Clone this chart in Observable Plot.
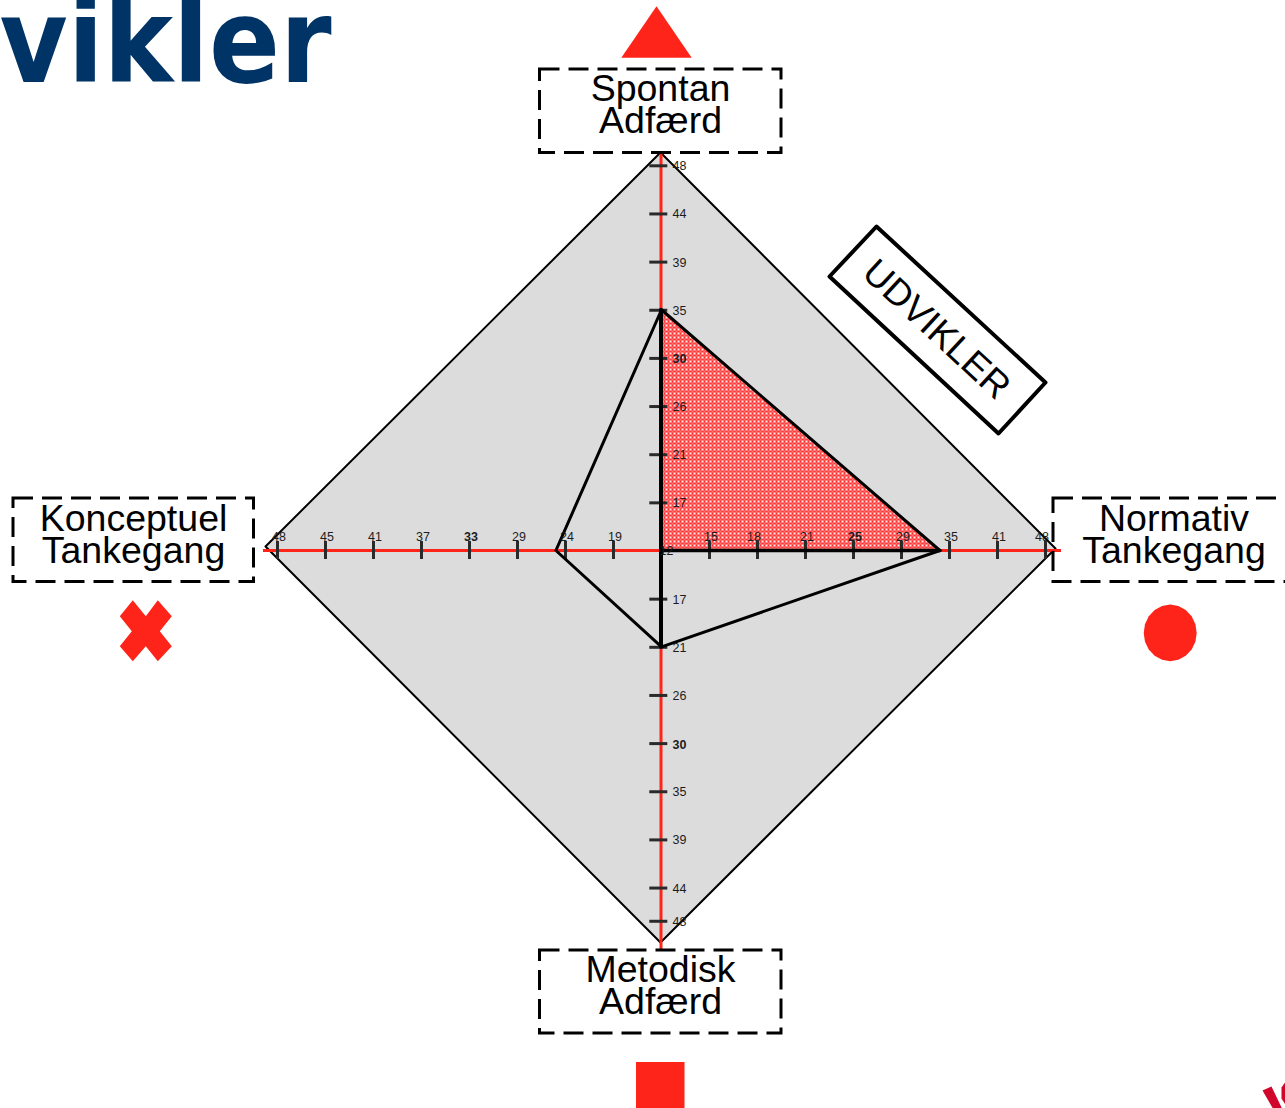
<!DOCTYPE html>
<html>
<head>
<meta charset="utf-8">
<script src="https://cdn.jsdelivr.net/npm/d3@7"></script>
<script src="https://cdn.jsdelivr.net/npm/@observablehq/plot@0.6"></script>
<style>
html,body{margin:0;padding:0;background:#fff;overflow:hidden}
svg{display:block}
svg text{opacity:.995}
</style>
</head>
<body>
<div id="chart"></div>
<script>
// --- Data: tick labels of each arm, and the profile value read on each arm
const centreValue = 12;
const spontanTicks = [17, 21, 26, 30, 35, 39, 44, 48];
const metodiskTicks = [17, 21, 26, 30, 35, 39, 44, 48];
const normativTicks = [15, 18, 21, 25, 29, 35, 41, 48];
const konceptuelTicks = [19, 24, 29, 33, 37, 41, 45, 48];
const boldTicks = {spontan: 30, metodisk: 30, normativ: 25, konceptuel: 33};
const profile = {spontan: 35, normativ: 33.8, metodisk: 21, konceptuel: 25};
const armLabels = ["Spontan\nAdfærd", "Normativ\nTankegang", "Metodisk\nAdfærd", "Konceptuel\nTankegang"];
const title = "vikler";
const profileName = "UDVIKLER";

// Each arm: value -> distance from centre in tick steps
const steps = ticks => d3.scaleLinear().domain([centreValue, ...ticks]).range(d3.range(ticks.length + 1));
const sS = steps(spontanTicks), sN = steps(normativTicks), sM = steps(metodiskTicks), sK = steps(konceptuelTicks);

// --- Layout (px in the picture -> chart units)
const W = 1285, H = 1108, CX = 661, CY = 550, UX = 48, UY = 48.15;
const X = p => (p - CX) / UX, Y = p => (CY - p) / UY;
const RED = "#ff2419", INK = "#2a2a2a", SANS = "Liberation Sans";

const pSp = {x: 0, y: sS(profile.spontan)};
const pNo = {x: sN(profile.normativ), y: 0};
const pMe = {x: 0, y: -sM(profile.metodisk)};
const pKo = {x: -sK(profile.konceptuel), y: 0};
const origin = {x: 0, y: 0};

const diamond = [[X(660), Y(152)], [X(1055), Y(548)], [X(660), Y(942)], [X(265), Y(546)]];
const badge = [[X(876), Y(226)], [X(1045), Y(382)], [X(998), Y(433)], [X(829), Y(276)]];
const logoA = [[X(1262), Y(1090)], [X(1271), Y(1086)], [X(1282), Y(1109)], [X(1273), Y(1109)]];
const logoB = [[X(1286), Y(1080)], [X(1281), Y(1087)], [X(1281), Y(1098)], [X(1286), Y(1106)]];
const boxes = [
  {x1: X(539.5), x2: X(781), y1: Y(69), y2: Y(152.5)},
  {x1: X(1053), x2: X(1296), y1: Y(498), y2: Y(581.5)},
  {x1: X(539.5), x2: X(781), y1: Y(950), y2: Y(1033)},
  {x1: X(13), x2: X(253.5), y1: Y(498), y2: Y(581.5)}
];
const labelPos = [[660, 106.5], [1173.5, 536.5], [660, 987.5], [133, 536.5]];

// hand-made symbols, drawn by Plot.dot
const triangle = {draw(c, s) { const r = Math.sqrt(s / Math.PI);
  c.moveTo(0, -r); c.lineTo(r * 1.37, r); c.lineTo(-r * 1.37, r); c.closePath(); }};
const cross = {draw(c, s) { const r = Math.sqrt(s / Math.PI) / 30;
  [[-13,-31],[0,-15],[12,-31],[26,-15],[14,0],[26,15],[12,30],[0,15],[-13,30],[-26,15],[-14,0],[-26,-15]]
    .forEach((p, i) => i ? c.lineTo(p[0]*r, p[1]*r) : c.moveTo(p[0]*r, p[1]*r)); c.closePath(); }};
const oval = {draw(c, s) { const r = Math.sqrt(s / Math.PI);
  for (let i = 0; i < 20; ++i) { const a = i * Math.PI / 10, px = r * Math.sin(a), py = -r * 1.07 * Math.cos(a);
    i ? c.lineTo(px, py) : c.moveTo(px, py); } c.closePath(); }};

const tickLen = 9 / UX;
const vTick = (ticks, sc, sign, stepsOverride) => ticks.map((t, i) => ({t, p: sign * (stepsOverride ? stepsOverride[i] : sc(t))}));
const topT = vTick(spontanTicks, sS, 1), botT = vTick(metodiskTicks, sM, -1, [1, 2, 3, 4, 5, 6, 7, 7.69]);
const rightT = vTick(normativTicks, sN, 1), leftT = vTick(konceptuelTicks, sK, -1);
const shifted = {18: -5 / UX, 48: -5 / UX};
const hT = [...rightT.map(d => ({...d, b: d.t === boldTicks.normativ, q: d.p + (shifted[d.t] || 0)})),
            ...leftT.map(d => ({...d, b: d.t === boldTicks.konceptuel, q: d.p}))];
const vT = [...topT.map(d => ({...d, b: d.t === boldTicks.spontan})), ...botT.map(d => ({...d, b: d.t === boldTicks.metodisk}))];

const tickText = (data, bold, opts) => Plot.text(data.filter(d => d.b === bold), {
  ...opts, text: d => String(d.t), fontSize: 12.5, fontFamily: SANS, fill: "#1c1c1c", fontWeight: bold ? "bold" : "normal"
});

const chart = Plot.plot({
  width: W, height: H, margin: 0,
  style: {background: "#fff"},
  x: {domain: [X(0), X(W)], range: [0, W], axis: null},
  y: {domain: [Y(H), Y(0)], range: [H, 0], axis: null},
  marks: [
    // title and cut-off logo
    Plot.text([title], {x: X(-1), y: Y(81), text: d => d, textAnchor: "start", lineAnchor: "bottom",
      fontFamily: "DejaVu Sans", fontWeight: "bold", fontSize: 117, fill: "#003366", className: "brand"}),
    Plot.line(logoA, {x: "0", y: "1", curve: "linear-closed", fill: "#d0062a", stroke: "none"}),
    Plot.line(logoB, {x: "0", y: "1", curve: "linear-closed", fill: "#d0062a", stroke: "none"}),
    // grey diamond
    Plot.line(diamond, {x: "0", y: "1", curve: "linear-closed", fill: "#dcdcdc", stroke: "#000", strokeWidth: 2}),
    // red axes
    Plot.ruleY([0], {x1: X(263), x2: X(1061), stroke: RED, strokeWidth: 3}),
    Plot.ruleX([0], {y1: Y(152), y2: Y(949), stroke: RED, strokeWidth: 3, dx: -0.5}),
    // hatched triangle
    Plot.line([pSp, pNo, origin], {x: "x", y: "y", curve: "linear-closed", fill: "url(#hatch)", stroke: "none"}),
    // ticks
    Plot.ruleX(hT, {x: "p", y1: -tickLen, y2: tickLen, stroke: INK, strokeWidth: 3}),
    Plot.ruleY(vT, {y: "p", x1: -tickLen * 1.3, x2: tickLen * 0.7, stroke: INK, strokeWidth: 3, dy: 0.5}),
    // profile outlines
    Plot.line([pSp, pNo, pMe, pKo], {x: "x", y: "y", curve: "linear-closed", stroke: "#000", strokeWidth: 3}),
    Plot.line([pSp, pMe], {x: "x", y: "y", stroke: "#000", strokeWidth: 4, dx: -0.5}),
    Plot.line([origin, pNo], {x: "x", y: "y", stroke: "#000", strokeWidth: 3.5}),
    // tick labels
    tickText(hT, false, {x: "q", y: 0, dx: 1.5, dy: -14}),
    tickText(hT, true, {x: "q", y: 0, dx: 1.5, dy: -14}),
    tickText(vT, false, {x: 0, y: "p", dx: 11, dy: 1, textAnchor: "start"}),
    tickText(vT, true, {x: 0, y: "p", dx: 11, dy: 1.5, textAnchor: "start"}),
    Plot.text([String(centreValue)], {x: 0, y: 0, dx: 5, text: d => d, fontSize: 12.5, fontFamily: SANS, fill: "#1c1c1c"}),
    // dashed boxes and labels
    Plot.rect(boxes, {x1: "x1", x2: "x2", y1: "y1", y2: "y2", fill: "none", stroke: "#000", strokeWidth: 3, strokeDasharray: "20,9"}),
    Plot.text(armLabels, {x: (d, i) => X(labelPos[i][0]), y: (d, i) => Y(labelPos[i][1]), text: d => d,
      fontFamily: SANS, fontSize: 37.5, lineHeight: 0.84, fill: "#000"}),
    // profile name badge
    Plot.line(badge, {x: "0", y: "1", curve: "linear-closed", fill: "none", stroke: "#000", strokeWidth: 4}),
    Plot.text([profileName], {x: X(936), y: Y(329), text: d => d, rotate: 42.8, fontFamily: SANS, fontSize: 37, fill: "#000"}),
    // corner symbols
    Plot.dot([0], {x: X(656), y: Y(31.5), r: 25.7, symbol: triangle, fill: RED, stroke: "none"}),
    Plot.dot([0], {x: X(1169.7), y: Y(632.4), r: 26.5, symbol: oval, fill: RED, stroke: "none"}),
    Plot.dot([0], {x: X(145.3), y: Y(630.7), r: 30, symbol: cross, fill: RED, stroke: "none"}),
    Plot.rect([0], {x1: X(636), x2: X(684.5), y1: Y(1062), y2: Y(1109), fill: RED})
  ]
});

// squeeze the brand word to its width in the picture
d3.select(chart).selectAll(".brand text").attr("textLength", 332).attr("lengthAdjust", "spacingAndGlyphs");

// checker pattern for the hatched area
const defs = d3.select(chart).insert("defs", ":first-child");
const pat = defs.append("pattern").attr("id", "hatch").attr("patternUnits", "userSpaceOnUse")
  .attr("x", 661).attr("y", 0).attr("width", 4).attr("height", 4);
pat.append("rect").attr("width", 4).attr("height", 4).attr("fill", "#ff3030");
pat.append("rect").attr("width", 2).attr("height", 2).attr("fill", "#fff0f0");
pat.append("rect").attr("x", 2).attr("y", 2).attr("width", 2).attr("height", 2).attr("fill", "#ff7070");

document.getElementById("chart").append(chart);
</script>
</body>
</html>
